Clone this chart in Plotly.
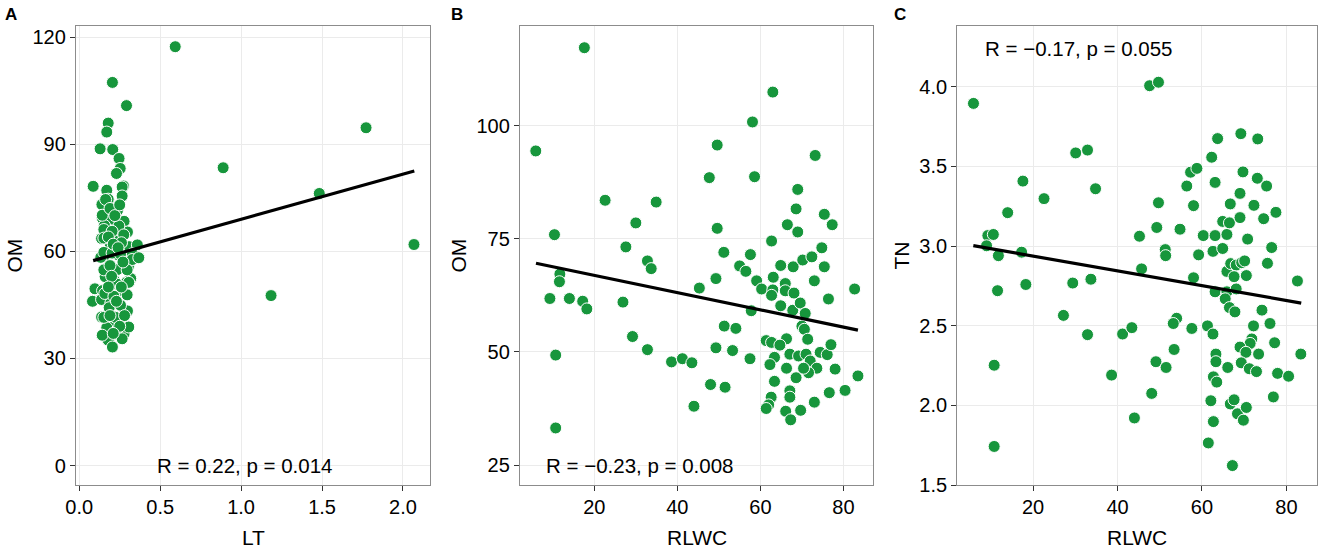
import plotly.graph_objects as go
from plotly.subplots import make_subplots

GREEN = '#17963c'
FONT = 'Liberation Sans'
W, H = 1325, 552

# Panel A: LT vs OM
lt = [0.593, 0.889, 1.772, 1.483, 1.185, 2.068,
      0.205, 0.292, 0.179, 0.170, 0.129, 0.207, 0.246, 0.253, 0.230, 0.273,
      0.086, 0.170, 0.179, 0.140, 0.236, 0.144, 0.205, 0.277, 0.156, 0.248,
      0.298, 0.138, 0.170, 0.226, 0.191, 0.308, 0.359, 0.329, 0.170, 0.236,
      0.133, 0.304, 0.236, 0.160, 0.216, 0.294, 0.318, 0.097, 0.144, 0.253,
      0.082, 0.138, 0.195, 0.236, 0.185, 0.298, 0.138, 0.226, 0.195, 0.170,
      0.277, 0.226, 0.179, 0.205,
      0.265, 0.265, 0.163, 0.142, 0.245, 0.152, 0.203, 0.275, 0.152, 0.261,
      0.152, 0.203, 0.255, 0.327, 0.368, 0.152, 0.296, 0.234, 0.306, 0.158,
      0.214, 0.296, 0.255, 0.152, 0.224, 0.306, 0.142, 0.265,
      0.190, 0.220, 0.250, 0.180, 0.210, 0.240, 0.190, 0.270, 0.200, 0.260,
      0.180, 0.230, 0.280, 0.190, 0.250, 0.210]
om_a = [117.3, 83.4, 94.6, 76.2, 47.6, 61.9,
        107.3, 100.8, 95.9, 93.4, 88.7, 88.5, 86.0, 83.2, 81.8, 78.3,
        78.2, 77.1, 74.6, 73.1, 71.4, 69.2, 69.0, 68.4, 67.2, 66.2,
        65.4, 63.6, 63.5, 62.8, 61.3, 61.3, 61.8, 59.3, 59.1, 59.1,
        58.3, 55.7, 54.9, 52.9, 51.9, 51.4, 52.4, 49.5, 49.0, 49.0,
        46.0, 46.5, 45.5, 45.3, 44.2, 43.3, 41.6, 41.1, 40.1, 38.6,
        36.9, 36.9, 35.1, 33.2,
        78.0, 75.5, 74.5, 70.1, 67.1, 66.1, 65.6, 64.6, 63.7, 62.4,
        59.7, 59.5, 59.2, 57.7, 58.2, 54.8, 54.8, 50.8, 51.3, 48.2,
        47.4, 47.8, 44.9, 41.5, 41.5, 38.8, 36.5, 35.5,
        72.0, 70.0, 73.0, 64.0, 62.0, 61.0, 56.0, 57.0, 53.0, 50.0,
        50.0, 46.0, 42.0, 42.0, 39.0, 37.0]
fit_a_x = [0.086, 2.070]
fit_a_y = [57.4, 82.5]

# Panel B: RLWC vs OM
rlwc_b = [5.9, 17.6, 10.4, 11.7, 11.6, 9.3, 14.0, 17.2, 18.2, 10.7, 10.7,
          22.6, 30.0, 27.6, 34.9, 32.8, 33.7, 26.9, 29.2, 32.8, 38.6, 41.2,
          43.5, 44.0, 45.3, 47.7, 49.6, 49.6, 49.3, 51.2, 51.3, 54.1, 49.3,
          53.3, 48.0, 51.5, 55.0, 56.5, 57.6, 58.1, 58.6, 63.0, 59.1, 60.3,
          57.8, 57.5, 62.7, 63.1, 63.0, 62.7, 64.9, 66.0, 66.0, 68.1, 64.9,
          67.9, 66.5, 69.0, 68.6, 69.0, 70.2, 72.4, 74.8, 73.2, 75.4, 77.3,
          75.4, 73.0, 76.4, 82.7, 67.8, 69.6, 70.8, 70.0, 70.6, 71.4, 66.3,
          61.4, 62.7, 64.7, 67.1, 63.4, 62.3, 66.3, 69.2, 71.0, 72.0, 73.6,
          74.4, 76.1, 77.0, 78.0, 83.5, 68.6, 71.6, 70.4, 63.4, 67.1, 67.1,
          76.6, 80.4, 73.0, 62.6, 62.0, 61.4, 66.1, 69.7, 67.3]
om_b = [94.4, 117.2, 75.9, 67.2, 65.5, 61.8, 61.8, 61.2, 59.5, 49.3, 33.2,
        83.5, 78.5, 73.2, 83.1, 70.1, 68.4, 61.0, 53.4, 50.5, 47.8, 48.5,
        47.6, 38.0, 64.1, 88.5, 95.7, 77.3, 66.2, 72.0, 55.7, 55.2, 50.9,
        50.3, 42.8, 42.2, 69.0, 67.8, 71.5, 100.8, 88.7, 107.4, 65.7, 63.9,
        59.1, 48.5, 74.5, 66.5, 63.7, 62.5, 69.1, 65.1, 63.5, 63.0, 60.2,
        68.8, 78.1, 85.9, 81.6, 76.5, 70.3, 71.0, 73.0, 93.4, 80.4, 78.1,
        68.8, 65.7, 61.7, 63.9, 59.2, 60.8, 58.5, 55.7, 55.0, 52.8, 52.9,
        52.5, 52.1, 51.5, 49.5, 48.8, 47.2, 46.4, 49.1, 49.5, 48.0, 46.4,
        49.9, 49.4, 51.6, 46.2, 44.7, 44.3, 45.4, 46.4, 43.5, 41.4, 40.0,
        41.0, 41.5, 38.9, 40.0, 38.3, 37.5, 36.9, 37.1, 35.0]
fit_b_x = [5.95, 83.5]
fit_b_y = [69.6, 54.8]

# Panel C: RLWC vs TN
rlwc_c = [5.9, 9.3, 10.6, 9.0, 11.8, 11.6, 10.8, 10.8, 14.0, 17.6, 17.3,
          18.3, 22.6, 30.1, 32.9, 34.8, 29.4, 33.7, 27.2, 32.9, 38.6, 41.2,
          43.4, 44.0, 47.6, 49.7, 45.2, 45.7, 49.3, 49.7, 51.3, 51.4, 49.1,
          51.5, 48.1, 54.8, 54.0, 53.2, 53.4, 57.6, 56.4, 57.3, 58.8, 58.0,
          59.2, 58.0, 60.3, 61.3, 62.6, 62.3, 63.7, 63.1, 63.1, 62.6, 64.9,
          65.9, 64.9, 66.5, 66.7, 69.0, 69.0, 69.7, 69.2, 73.2, 73.1, 75.3,
          72.3, 74.6, 77.5, 70.8, 76.5, 75.5, 82.6, 65.9, 66.8, 68.1, 69.4,
          70.1, 70.5, 67.6, 63.1, 65.9, 68.1, 65.5, 66.5, 67.8, 74.2, 72.2,
          76.1, 71.8, 71.4, 69.0, 70.4, 73.4, 77.2, 83.4, 63.3, 63.3, 66.1,
          69.3, 71.2, 72.9, 77.9, 80.5, 62.7, 63.5, 76.9, 62.1, 66.7, 67.6,
          68.4, 70.5, 69.8, 62.7, 61.5, 67.2]
tn_c = [3.896, 3.066, 3.073, 3.002, 2.940, 2.720, 2.252, 1.742, 3.210, 3.408,
        2.962, 2.759, 3.298, 3.585, 3.603, 3.360, 2.768, 2.792, 2.565, 2.444,
        2.190, 2.448, 2.488, 1.921, 4.007, 4.029, 3.062, 2.857, 3.117, 3.272,
        2.978, 2.940, 2.274, 2.238, 2.075, 3.106, 2.547, 2.514, 2.351, 2.483,
        3.377, 3.464, 3.488, 3.254, 2.945, 2.801, 3.066, 2.499, 2.448, 3.558,
        3.675, 3.400, 3.066, 2.967, 2.985, 3.073, 3.155, 3.146, 3.265, 3.331,
        3.179, 3.466, 3.706, 3.673, 3.426, 3.377, 3.256, 3.172, 3.212, 3.044,
        2.991, 2.892, 2.781, 2.841, 2.890, 2.881, 2.896, 2.907, 2.815, 2.808,
        2.713, 2.713, 2.731, 2.669, 2.614, 2.587, 2.598, 2.499, 2.514, 2.417,
        2.389, 2.366, 2.333, 2.322, 2.393, 2.322, 2.322, 2.274, 2.238, 2.267,
        2.230, 2.212, 2.201, 2.183, 2.179, 2.146, 2.053, 2.029, 2.009, 2.035,
        1.947, 1.987, 1.907, 1.898, 1.764, 1.622]
fit_c_x = [5.86, 83.5]
fit_c_y = [3.003, 2.642]

panels = [
    (lt, om_a, fit_a_x, fit_a_y),
    (rlwc_b, om_b, fit_b_x, fit_b_y),
    (rlwc_c, tn_c, fit_c_x, fit_c_y),
]

fig = make_subplots(rows=1, cols=3)
for i, (xs, ys, fx, fy) in enumerate(panels, start=1):
    # points
    fig.add_trace(go.Scatter(
        x=xs, y=ys, mode='markers',
        marker=dict(size=12, color=GREEN, line=dict(color='white', width=1)),
        showlegend=False), row=1, col=i)
    # fitted line
    fig.add_trace(go.Scatter(
        x=fx, y=fy, mode='lines',
        line=dict(color='black', width=3.2),
        showlegend=False), row=1, col=i)

axis_common = dict(
    automargin=False,
    showline=True, mirror=True, linecolor='#8c8c8c', linewidth=1.4,
    ticks='outside', ticklen=5, tickcolor='#333333', tickwidth=1.2,
    showgrid=True, gridcolor='#ebebeb', gridwidth=1, zeroline=False,
    tickfont=dict(family=FONT, size=20, color='black'),
)
fig.update_xaxes(**axis_common, ticklabelstandoff=-1)
fig.update_yaxes(**axis_common, ticklabelstandoff=0)

ydom = [1 - 485 / H, 1 - 26 / H]
xdoms = [[76 / W, 430 / W], [520 / W, 873.3 / W], [957.3 / W, 1317.3 / W]]

fig.update_layout(
    xaxis=dict(domain=xdoms[0], range=[-0.02, 2.167], tickvals=[0, 0.5, 1, 1.5, 2], tickformat='.1f'),
    yaxis=dict(domain=ydom, range=[-5.45, 123.1], tickvals=[0, 30, 60, 90, 120]),
    xaxis2=dict(domain=xdoms[1], range=[2.1, 87.2], tickvals=[20, 40, 60, 80]),
    yaxis2=dict(domain=ydom, range=[20.6, 122.0], tickvals=[25, 50, 75, 100]),
    xaxis3=dict(domain=xdoms[2], range=[2.07, 87.3], tickvals=[20, 40, 60, 80]),
    yaxis3=dict(domain=ydom, range=[1.5, 4.382], tickvals=[1.5, 2, 2.5, 3, 3.5, 4], tickformat='.1f'),
    width=W, height=H,
    margin=dict(l=0, r=0, t=0, b=0),
    plot_bgcolor='white', paper_bgcolor='white',
    font=dict(family=FONT, color='black'),
)

# axis titles
title_font = dict(family=FONT, size=21, color='black')
for text, cx in [('LT', 253), ('RLWC', 696.5), ('RLWC', 1137)]:
    fig.add_annotation(x=cx / W, y=1 - 537.5 / H, xref='paper', yref='paper', text=text,
                       showarrow=False, xanchor='center', yanchor='middle', font=title_font)
for text, cx in [('OM', 13.5), ('OM', 457.5), ('TN', 900.5)]:
    fig.add_annotation(x=cx / W, y=1 - 256 / H, xref='paper', yref='paper', text=text,
                       textangle=-90, showarrow=False, xanchor='center', yanchor='middle',
                       font=title_font)

# correlation labels
cor_font = dict(family=FONT, size=20.5, color='black')
fig.add_annotation(x=0.47, y=0, xref='x', yref='y', text='R = 0.22, p = 0.014',
                   xanchor='left', showarrow=False, font=cor_font)
fig.add_annotation(x=7.9, y=25, xref='x2', yref='y2', text='R = \u22120.23, p = 0.008',
                   xanchor='left', showarrow=False, font=cor_font)
fig.add_annotation(x=8.2, y=4.243, xref='x3', yref='y3', text='R = \u22120.17, p = 0.055',
                   xanchor='left', showarrow=False, font=cor_font)

# panel letters
for letter, px in [('A', 3), ('B', 449), ('C', 892)]:
    fig.add_annotation(x=px / W, y=1 - 14 / H, xref='paper', yref='paper',
                       text='<b>%s</b>' % letter, xanchor='left', yanchor='middle',
                       showarrow=False, font=dict(family=FONT, size=17, color='black'))

# the page body has a default 8px margin; drop it so the figure sits at 0,0
fig.write_html("out.html", config={'displayModeBar': False},
               post_script="document.body.style.margin='0px';")
